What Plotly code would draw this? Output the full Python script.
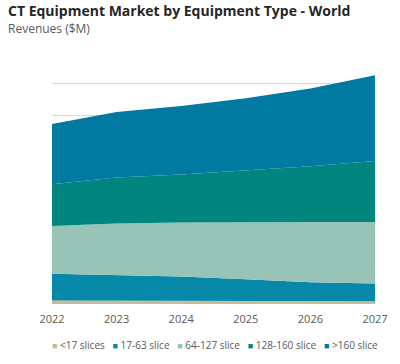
import plotly.graph_objects as go

years = [2022, 2023, 2024, 2025, 2026, 2027]
series_names = ["<17 slices", "17-63 slice", "64-127 slice", "128-160 slice", ">160 slice"]
v_lt17 = [110, 108, 106, 100, 95, 90]
v_17_63 = [850, 805, 765, 685, 595, 565]
v_64_127 = [1520, 1650, 1720, 1825, 1920, 1955]
v_128_160 = [1330, 1465, 1530, 1650, 1775, 1940]
v_gt160 = [1915, 2080, 2180, 2285, 2475, 2730]
series_values = [v_lt17, v_17_63, v_64_127, v_128_160, v_gt160]
colors = ["#C9BB95", "#0688A8", "#97C4B7", "#00857F", "#007AA1"]

fig = go.Figure()
for name, vals, col in zip(series_names, series_values, colors):
    fig.add_trace(go.Scatter(
        x=years, y=vals, name=name, mode="lines", stackgroup="one",
        line=dict(width=0, color=col), fillcolor=col, showlegend=False,
        hoverinfo="x+y+name",
    ))

FONT = "Open Sans"
legend_parts = []
for name, col in zip(series_names, colors):
    legend_parts.append(
        f'<span style="color:{col};font-size:9px">■</span>\u00a0{name.replace("<", "&lt;")}'
    )
legend_text = "\u00a0\u00a0\u00a0".join(legend_parts)

fig.update_layout(
    width=400, height=364,
    margin=dict(l=52, r=22, t=70, b=60),
    paper_bgcolor="white", plot_bgcolor="white",
    font=dict(family=FONT, size=11, color="#595959"),
    xaxis=dict(range=[2022, 2027], tickvals=years, ticktext=[str(y) for y in years],
               showgrid=False, zeroline=False, showline=False, ticks="",
               ticklabelstandoff=7, tickfont=dict(size=11, color="#595959")),
    yaxis=dict(range=[0, 7445], dtick=1000, showgrid=True, gridcolor="#d9d9d9",
               gridwidth=1, zeroline=False, showticklabels=False, showline=False),
    showlegend=False,
    annotations=[
        dict(text="<b>CT Equipment Market by Equipment Type - World</b>",
             xref="paper", yref="paper", x=-0.141, y=1.2534, xanchor="left", yanchor="middle",
             showarrow=False, font=dict(family=FONT, size=14, color="#262626")),
        dict(text="Revenues ($M)",
             xref="paper", yref="paper", x=-0.141, y=1.1774, xanchor="left", yanchor="middle",
             showarrow=False, font=dict(family=FONT, size=12, color="#595959")),
        dict(text=legend_text,
             xref="paper", yref="paper", x=0.505, y=-0.175, xanchor="center", yanchor="middle",
             showarrow=False, font=dict(family=FONT, size=10, color="#595959")),
    ],
)

fig.write_html("out.html", config={"displayModeBar": False},
               post_script="document.body.style.margin='0px';")
